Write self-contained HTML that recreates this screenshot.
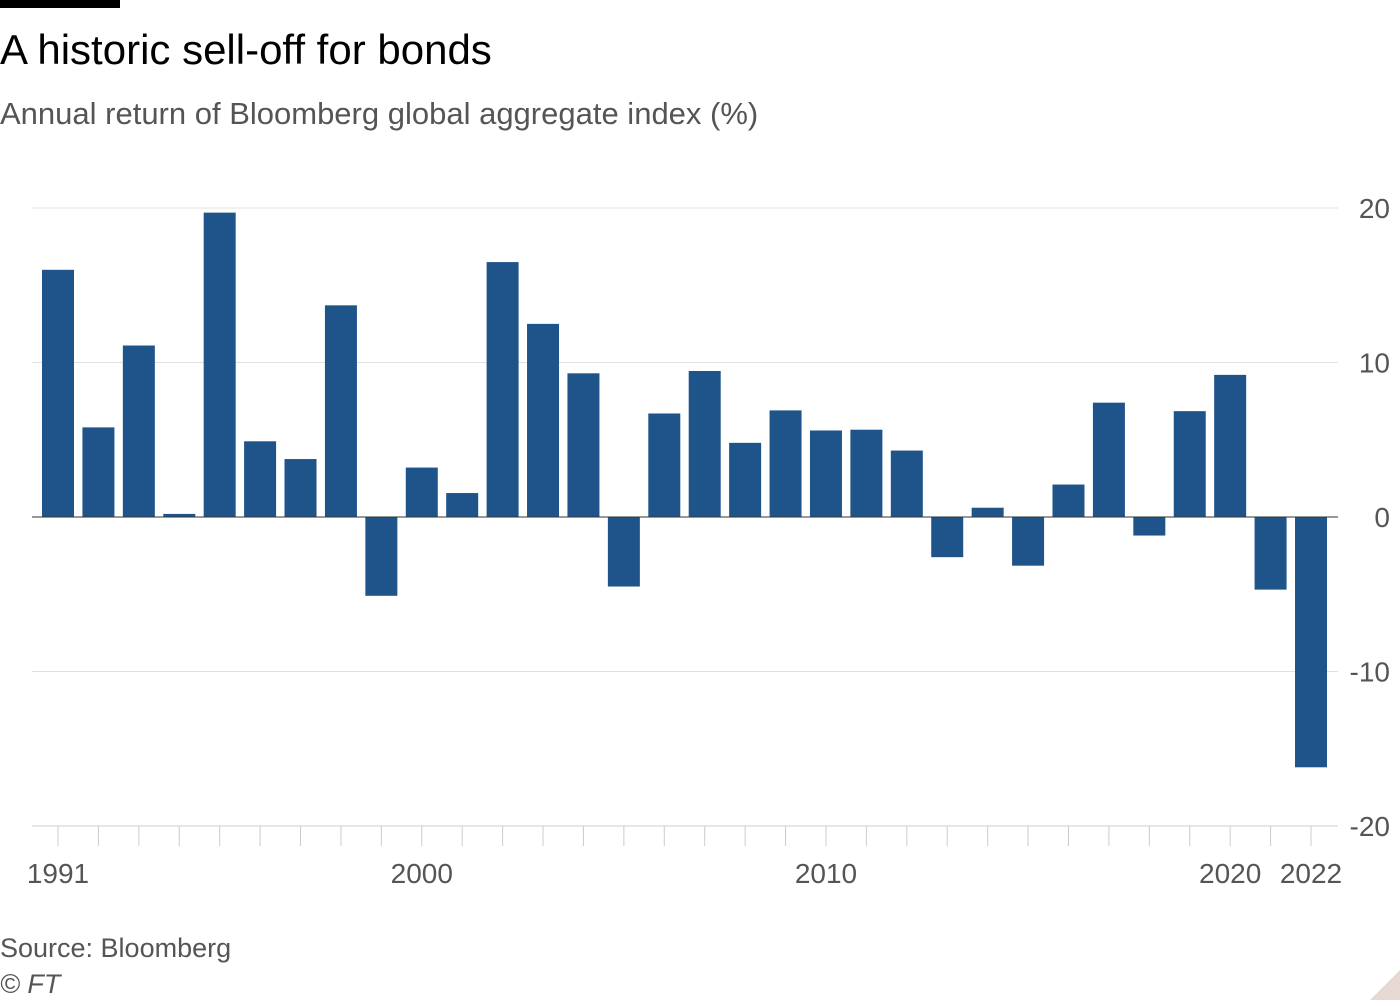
<!DOCTYPE html>
<html><head><meta charset="utf-8"><style>
body{margin:0;width:1400px;height:1000px;background:#fff;font-family:"Liberation Sans",sans-serif;position:relative;overflow:hidden}
.t{position:absolute;white-space:nowrap}
</style></head><body>
<div style="position:absolute;left:0;top:0;width:120px;height:8px;background:#000"></div>
<div class="t" style="left:0;top:26px;font-size:42px;color:#000">A historic sell-off for bonds</div>
<div class="t" style="left:0;top:96px;font-size:31px;color:#555">Annual return of Bloomberg global aggregate index (%)</div>
<svg id="chart" width="1400" height="920" style="position:absolute;left:0;top:0"></svg>
<div class="t" style="left:0;top:933px;font-size:27px;color:#555">Source: Bloomberg</div>
<div class="t" style="left:0;top:969px;font-size:27px;color:#555;font-style:italic">© FT</div>
<svg width="30" height="30" style="position:absolute;right:0;bottom:0"><polygon points="30,0 30,30 0,30" fill="#e6d9d3"/></svg>
<script>
const years=[1991,1992,1993,1994,1995,1996,1997,1998,1999,2000,2001,2002,2003,2004,2005,2006,2007,2008,2009,2010,2011,2012,2013,2014,2015,2016,2017,2018,2019,2020,2021,2022];
const values=[16.0,5.8,11.1,0.2,19.7,4.9,3.75,13.7,-5.1,3.2,1.55,16.5,12.5,9.3,-4.5,6.7,9.45,4.8,6.9,5.6,5.65,4.3,-2.6,0.6,-3.15,2.1,7.4,-1.2,6.85,9.2,-4.7,-16.2];
const yTicks=[20,10,0,-10,-20];
const xLabels=[1991,2000,2010,2020,2022];
const NS="http://www.w3.org/2000/svg";
const svg=document.getElementById('chart');
const y=v=>517-v*15.45;
const x=yr=>58+(yr-1991)*(1253/31);
function mk(t,a){const e=document.createElementNS(NS,t);for(const k in a)e.setAttribute(k,a[k]);svg.appendChild(e);return e;}
yTicks.forEach(v=>{
  const l=mk('line',{x1:32,x2:1338,y1:y(v),y2:y(v),stroke:v===-20?'#ccc':'#e0e0e0','stroke-width':1});
  
  
  const t=mk('text',{x:1390,y:y(v)+10,'text-anchor':'end','font-size':28,fill:'#555','font-family':'Liberation Sans, sans-serif'});
  t.textContent=v;
  
  
});
years.forEach((yr,i)=>{
  const v=values[i];
  const r=mk('rect',{x:x(yr)-16,width:32,y:Math.min(y(v),y(0)),height:Math.abs(y(v)-y(0)),fill:'#1f548a'});
  
  
  const tk=mk('line',{x1:x(yr),x2:x(yr),y1:826,y2:846,stroke:'#ccc','stroke-width':1});
  
  
});
const z=mk('line',{x1:32,x2:1338,y1:y(0),y2:y(0),stroke:'#333','stroke-width':1});


xLabels.forEach(yr=>{
  const t=mk('text',{x:x(yr),y:883,'text-anchor':'middle','font-size':28,fill:'#555','font-family':'Liberation Sans, sans-serif'});
  t.textContent=yr;
  
  
});
</script>
</body></html>
